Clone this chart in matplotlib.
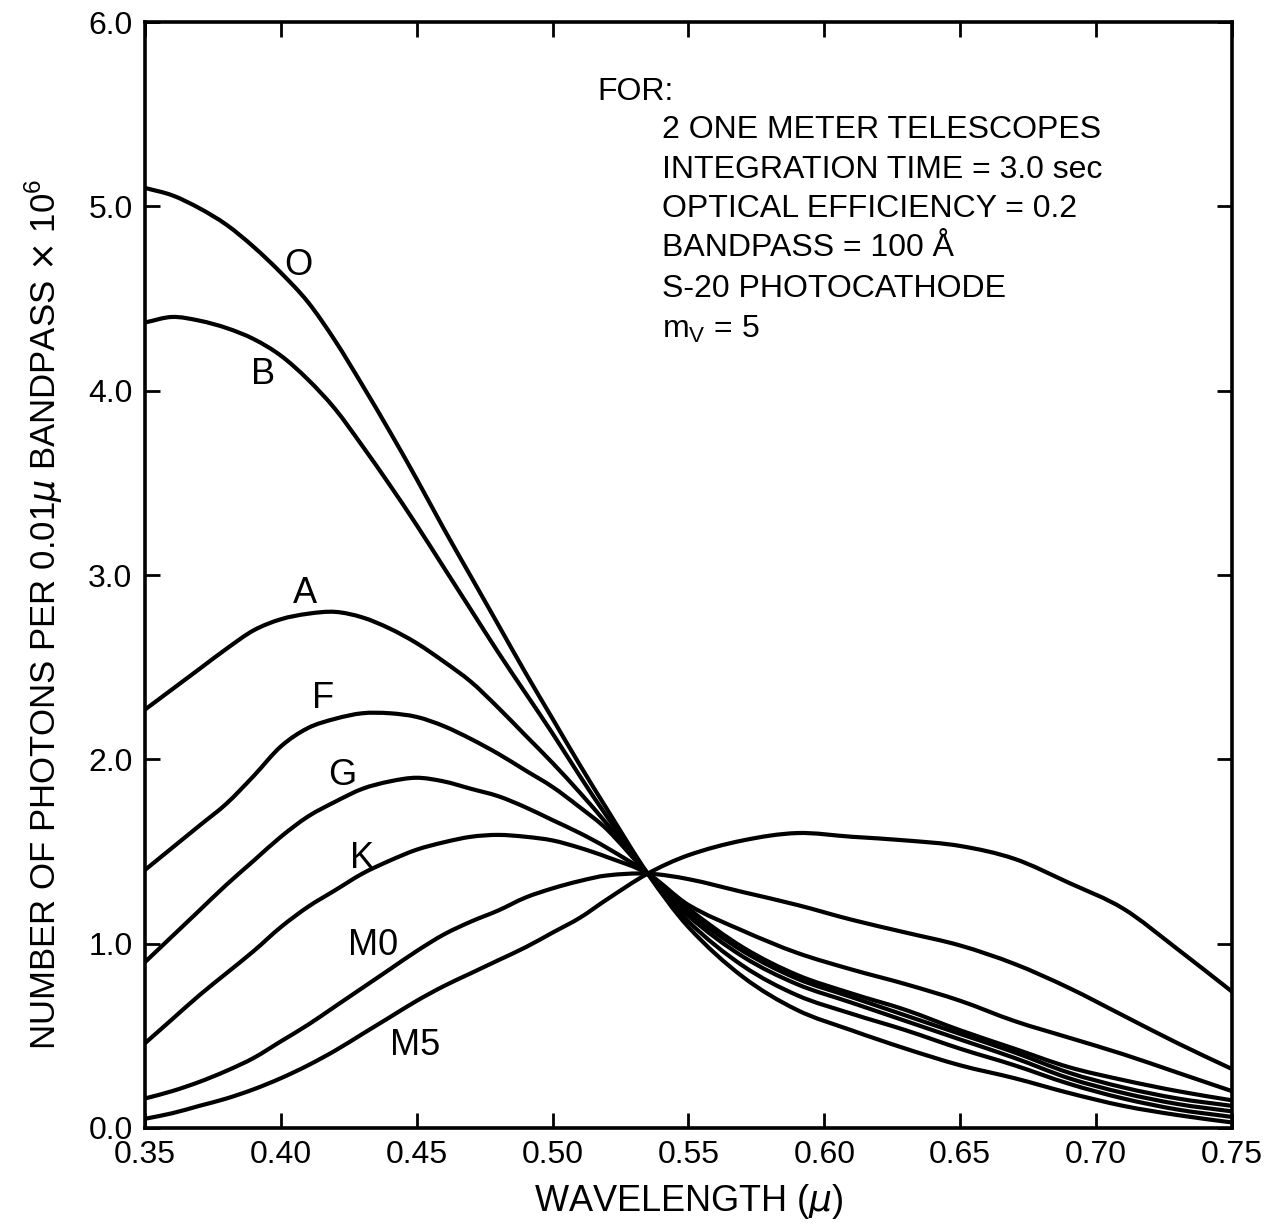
import numpy as np
import matplotlib
matplotlib.use('Agg')
import matplotlib.pyplot as plt
from matplotlib.path import Path
from matplotlib.patches import PathPatch

# wavelength grid (microns) shared by all curves
wl = [0.35, 0.36, 0.37, 0.38, 0.39, 0.40, 0.41, 0.42, 0.43, 0.44, 0.45, 0.46, 0.47, 0.48,
      0.49, 0.50, 0.51, 0.52, 0.535, 0.55, 0.57, 0.59, 0.61, 0.63, 0.65, 0.67, 0.69, 0.71,
      0.73, 0.75]

# photons per 0.01 micron bandpass x 10^6
star_O = [5.10, 5.06, 4.99, 4.90, 4.78, 4.64, 4.48, 4.27, 4.03, 3.78, 3.52, 3.25, 2.99, 2.73,
          2.47, 2.22, 1.97, 1.73, 1.38, 1.09, 0.82, 0.64, 0.53, 0.43, 0.34, 0.27, 0.19, 0.12,
          0.07, 0.03]
star_B = [4.37, 4.40, 4.38, 4.34, 4.28, 4.19, 4.06, 3.90, 3.70, 3.49, 3.27, 3.04, 2.81, 2.58,
          2.36, 2.14, 1.91, 1.69, 1.38, 1.12, 0.88, 0.72, 0.62, 0.53, 0.43, 0.34, 0.24, 0.16,
          0.10, 0.06]
star_A = [2.27, 2.38, 2.49, 2.60, 2.70, 2.76, 2.79, 2.80, 2.77, 2.71, 2.63, 2.53, 2.42, 2.28,
          2.13, 1.98, 1.82, 1.65, 1.38, 1.15, 0.93, 0.78, 0.68, 0.58, 0.48, 0.38, 0.27, 0.19,
          0.13, 0.09]
star_F = [1.40, 1.52, 1.64, 1.76, 1.91, 2.07, 2.17, 2.22, 2.25, 2.25, 2.23, 2.18, 2.11, 2.03,
          1.94, 1.85, 1.74, 1.62, 1.38, 1.17, 0.96, 0.81, 0.71, 0.61, 0.51, 0.41, 0.30, 0.22,
          0.16, 0.12]
star_G = [0.90, 1.04, 1.18, 1.32, 1.45, 1.58, 1.69, 1.77, 1.84, 1.88, 1.90, 1.88, 1.84, 1.80,
          1.74, 1.67, 1.60, 1.52, 1.38, 1.19, 0.98, 0.83, 0.73, 0.64, 0.53, 0.43, 0.33, 0.26,
          0.20, 0.15]
star_K = [0.46, 0.59, 0.72, 0.84, 0.96, 1.09, 1.20, 1.29, 1.38, 1.45, 1.51, 1.55, 1.58, 1.59,
          1.58, 1.56, 1.52, 1.47, 1.38, 1.21, 1.07, 0.95, 0.86, 0.78, 0.69, 0.58, 0.49, 0.40,
          0.30, 0.20]
star_M0 = [0.16, 0.20, 0.25, 0.31, 0.38, 0.47, 0.56, 0.66, 0.76, 0.86, 0.96, 1.05, 1.12, 1.18,
           1.25, 1.30, 1.34, 1.37, 1.38, 1.35, 1.28, 1.21, 1.13, 1.06, 0.99, 0.89, 0.76, 0.61,
           0.46, 0.32]
star_M5 = [0.05, 0.08, 0.12, 0.16, 0.21, 0.27, 0.34, 0.42, 0.51, 0.60, 0.69, 0.77, 0.84, 0.91,
           0.98, 1.06, 1.14, 1.24, 1.38, 1.48, 1.56, 1.60, 1.58, 1.56, 1.53, 1.46, 1.33, 1.19,
           0.97, 0.74]

names = ['O', 'B', 'A', 'F', 'G', 'K', 'M0', 'M5']
label_x = [0.4063, 0.3934, 0.4089, 0.4155, 0.4225, 0.4299, 0.4339, 0.4494]
label_y = [4.68, 4.09, 2.90, 2.33, 1.91, 1.46, 0.99, 0.445]

notes = ['2 ONE METER TELESCOPES', 'INTEGRATION TIME = 3.0 sec',
         'OPTICAL EFFICIENCY = 0.2', 'BANDPASS = 100 \u00c5', 'S-20 PHOTOCATHODE',
         r'$\mathregular{m_V}$ = 5']

plain = ['Liberation Sans', 'DejaVu Sans']


def smooth_path(x, y):
    # Catmull-Rom through the read points, drawn as cubic bezier segments
    x = np.asarray(x, float)
    y = np.asarray(y, float)
    verts = [(x[0], y[0])]
    codes = [Path.MOVETO]
    n = len(x)
    for i in range(n - 1):
        i0 = max(i - 1, 0)
        i3 = min(i + 2, n - 1)
        h = x[i + 1] - x[i]
        m1 = (y[i + 1] - y[i0]) / (x[i + 1] - x[i0])
        m2 = (y[i3] - y[i]) / (x[i3] - x[i])
        verts += [(x[i] + h / 3, y[i] + m1 * h / 3),
                  (x[i + 1] - h / 3, y[i + 1] - m2 * h / 3),
                  (x[i + 1], y[i + 1])]
        codes += [Path.CURVE4] * 3
    return Path(verts, codes)


fig = plt.figure(figsize=(12.81, 12.25), dpi=100)
ax = fig.add_axes([0.1132, 0.0792, 0.8485, 0.9028])

curves = [star_O, star_B, star_A, star_F, star_G, star_K, star_M0, star_M5]
for c in curves:
    ax.add_patch(PathPatch(smooth_path(wl, c), facecolor='none', edgecolor='black',
                           lw=3.0, capstyle='round'))

for n, lx, ly in zip(names, label_x, label_y):
    ax.text(lx, ly, n, fontsize=26, family=plain, ha='center', va='center')

# block of observing conditions
ax.text(0.5163, 5.62, 'FOR:', fontsize=23, family=plain, va='center')
ny = [5.415, 5.198, 4.986, 4.775, 4.552, 4.33]
for t, yy in zip(notes, ny):
    ax.text(0.5403, yy, t, fontsize=23, family=plain, va='center')

ax.set_xlim(0.35, 0.75)
ax.set_ylim(0.0, 6.0)
xt = np.arange(0.35, 0.7501, 0.05)
yt = np.arange(0, 6.01, 1.0)
ax.set_xticks(xt)
ax.set_yticks(yt)
ax.set_xticklabels(['%.2f' % v for v in xt], family=plain, fontsize=23)
ax.set_yticklabels(['%.1f' % v for v in yt], family=plain, fontsize=23)
ax.tick_params(direction='in', length=11, width=2, top=True, right=True, pad=9)
for s in ax.spines.values():
    s.set_linewidth(2.6)

ax.set_xlabel(r'WAVELENGTH ($\mu$)', fontsize=26, family=plain, labelpad=8)
ax.set_ylabel(r'NUMBER OF PHOTONS PER 0.01$\mu$ BANDPASS $\times$ 10$^\mathregular{6}$',
              fontsize=25, family=plain)
ax.yaxis.set_label_coords(-0.074, 0.464)

fig.savefig('out.png', dpi=100)
